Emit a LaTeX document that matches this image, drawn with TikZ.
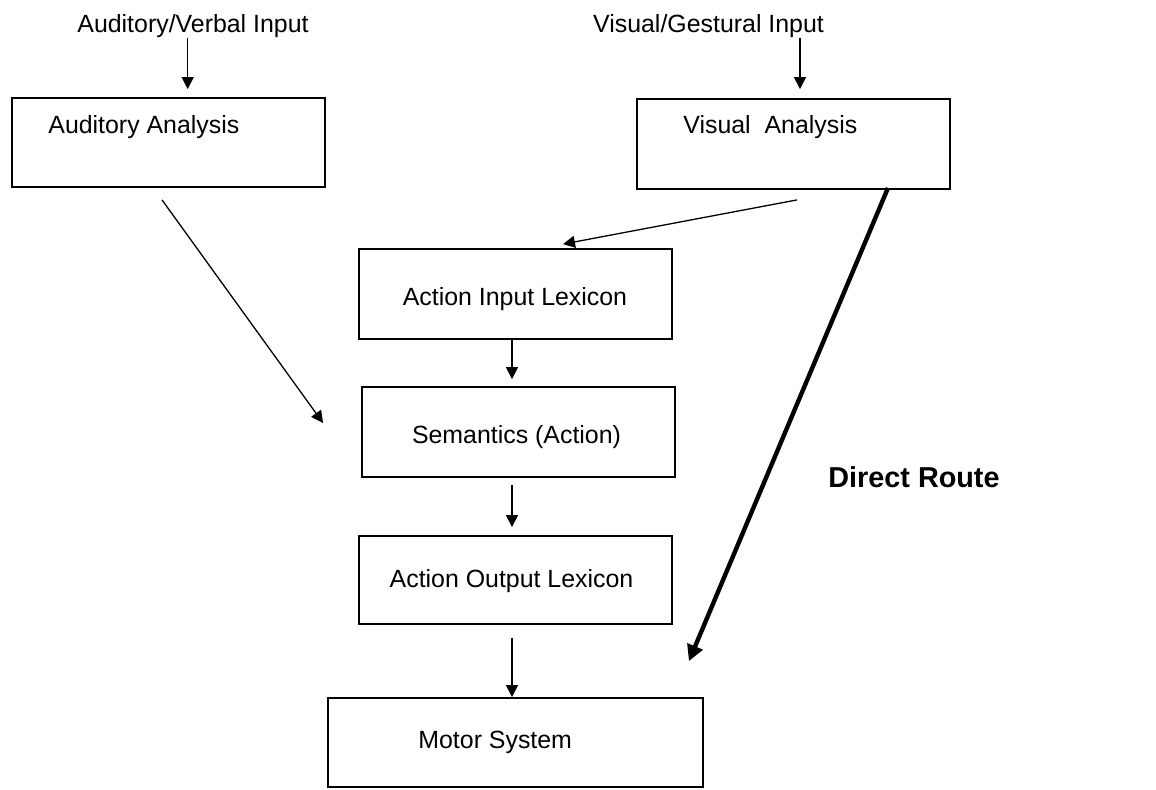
\documentclass[tikz,border=0pt]{standalone}
\usepackage{fontspec}
\setmainfont{Liberation Sans}
\usetikzlibrary{arrows.meta}
\begin{document}
\begin{tikzpicture}[x=0.5pt,y=-0.5pt,
  box/.style={draw=black,line width=0.9pt,rectangle,inner sep=0pt,minimum width=156.5pt,minimum height=44.5pt},
  lbl/.style={inner sep=0pt,font=\fontsize{12.45}{15}\selectfont},
  arr/.style={line width=0.65pt,-{Triangle[length=6pt,width=6pt]}},
  thickarr/.style={line width=2.2pt,-{Triangle[length=8pt,width=8pt]}}]
\useasboundingbox (0,0) rectangle (1156,789);
% boxes
\node[box] (aa) at (168.5,142.5) {};
\node[box,minimum height=45pt] (va) at (793.5,144) {};
\node[box,minimum height=45pt] (ail) at (515.5,294) {};
\node[box,minimum height=45pt] (sem) at (518.5,432) {};
\node[box,minimum height=44pt] (aol) at (515.5,580) {};
\node[box,minimum width=187.5pt] (mot) at (515.5,742.5) {};
% texts
\node[lbl,anchor=base] (in1) at (193,32) {Auditory/Verbal Input};
\node[lbl,anchor=base] (in2) at (708.5,32) {Visual/Gestural Input};
\node[lbl,anchor=base west] (aat) at (48,133) {Auditory Analysis};
\node[lbl,anchor=base west] (vat) at (683,133) {Visual~~Analysis};
\node[lbl,anchor=base] (ailt) at (515,305) {Action Input Lexicon};
\node[lbl,anchor=base] (semt) at (516.5,443) {Semantics (Action)};
\node[lbl,anchor=base] (aolt) at (511.5,587) {Action Output Lexicon};
\node[lbl,anchor=base west] (mott) at (418,748) {Motor System};
\node[lbl,anchor=base west,font=\fontsize{14.4}{17}\selectfont\bfseries] (dr) at (828,487) {Direct Route};
% connectors
\draw[arr] ([xshift=-2.65pt]in1.south) -- ([xshift=9.6pt,yshift=4pt]aa.north);
\draw[arr] ([xshift=45.75pt]in2.south) -- ([xshift=3.25pt,yshift=4.5pt]va.north);
\draw[arr] ([xshift=1.75pt,yshift=-5pt]va.south) -- ([xshift=23.75pt,yshift=2pt]ail.north);
\draw[arr] ([xshift=-1.75pt]ail.south) -- ([xshift=-3.25pt,yshift=3.5pt]sem.north);
\draw[arr] ([xshift=-3.25pt,yshift=-3.5pt]sem.south) -- ([xshift=-1.75pt,yshift=4pt]aol.north);
\draw[arr] ([xshift=-1.75pt,yshift=-6.5pt]aol.south) -- ([xshift=-1.75pt]mot.north);
\draw[arr] ([xshift=-3.25pt,yshift=-6pt]aa.south) -- ([xshift=-19pt,yshift=4.5pt]sem.west);
\draw[thickarr] ([xshift=47.25pt,yshift=1pt]va.south) -- ([xshift=-7.5pt,yshift=18pt]mot.north east);
\end{tikzpicture}
\end{document}
